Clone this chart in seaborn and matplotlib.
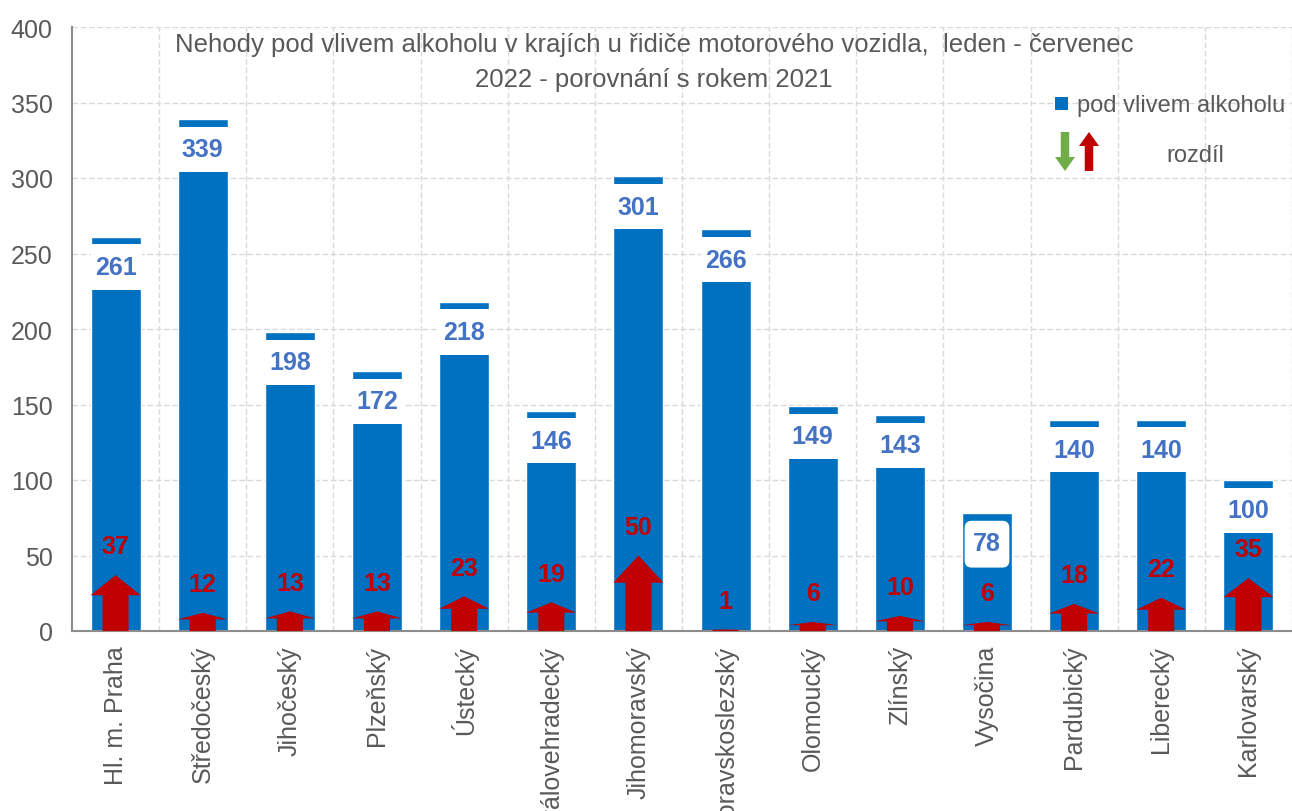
import numpy as np
import pandas as pd
import matplotlib
matplotlib.use("Agg")
import matplotlib.pyplot as plt
from matplotlib.patches import Rectangle, FancyBboxPatch, FancyArrow
import seaborn as sns

# Data
kraje = ['Hl. m. Praha', 'Středočeský', 'Jihočeský', 'Plzeňský', 'Ústecký',
         'Královehradecký', 'Jihomoravský', 'Moravskoslezský', 'Olomoucký',
         'Zlínský', 'Vysočina', 'Pardubický', 'Liberecký', 'Karlovarský']
nehody = [261, 339, 198, 172, 218, 146, 301, 266, 149, 143, 78, 140, 140, 100]
rozdil = [37, 12, 13, 13, 23, 19, 50, 1, 6, 10, 6, 18, 22, 35]

BLUE = '#0070C0'
LABEL_BLUE = '#4472C4'
RED = '#C00000'
GREEN = '#70AD47'
GRAY = '#595959'

sns.set_style('white')
plt.rcParams['font.family'] = ['Liberation Sans', 'DejaVu Sans']

df = pd.DataFrame({'kraj': kraje, 'nehody': nehody, 'rozdil': rozdil})

fig = plt.figure(figsize=(12.92, 8.12), dpi=100)
ax = fig.add_axes([72 / 1292, 180 / 812, 1 - 72 / 1292, 604 / 812])

sns.barplot(data=df, x='kraj', y='nehody', color=BLUE, saturation=1,
            width=0.574, ax=ax, zorder=2)

ax.set_ylim(0, 400)
ax.set_xlim(-0.5, len(kraje) - 0.5)
ax.set_yticks(np.arange(0, 401, 50))
ax.set_xlabel('')
ax.set_ylabel('')
ax.tick_params(axis='y', labelsize=18, colors=GRAY, length=0, pad=14)
ax.tick_params(axis='x', labelsize=18, colors=GRAY, length=0, pad=10)
plt.setp(ax.get_xticklabels(), rotation=90)

# dashed grid
for y in np.arange(50, 401, 50):
    ax.axhline(y, color='#D9D9D9', lw=1, ls=(0, (4, 2)), zorder=0)
for x in np.arange(0.5, len(kraje), 1):
    ax.axvline(x, color='#D9D9D9', lw=1, ls=(0, (4, 2)), zorder=0)

for side in ['top', 'right']:
    ax.spines[side].set_visible(False)
for side in ['left', 'bottom']:
    ax.spines[side].set_color('#8C8C8C')
    ax.spines[side].set_linewidth(1.5)

# value labels in white boxes, arrows for the difference
bars = ax.patches[:len(kraje)]
for i, (bar, val, d) in enumerate(zip(bars, nehody, rozdil)):
    cx = bar.get_x() + bar.get_width() / 2
    w = bar.get_width()
    if kraje[i] == 'Vysočina':
        box = FancyBboxPatch((bar.get_x() + 0.03, val - 36), w - 0.06, 31,
                             boxstyle='round,pad=0,rounding_size=0.08',
                             mutation_aspect=60, fc='white', ec='none', zorder=3)
    else:
        box = Rectangle((bar.get_x(), val - 35), w, 30, fc='white', ec='none', zorder=3)
    ax.add_patch(box)
    ax.text(cx, val - 20, str(val), ha='center', va='center', fontsize=18,
            fontweight='bold', color=LABEL_BLUE, zorder=4)

    arr = FancyArrow(cx, 0, 0, d, width=w * 0.52, head_width=w,
                     head_length=d * 0.36, length_includes_head=True,
                     fc=RED, ec='none', zorder=4)
    ax.add_patch(arr)
    ax.text(cx, d + 19, str(d), ha='center', va='center', fontsize=18,
            fontweight='bold', color=RED, zorder=5)

# title
fig.text(654 / 1292, 1 - 45 / 812,
         'Nehody pod vlivem alkoholu v krajích u řidiče motorového vozidla,  leden - červenec',
         ha='center', va='center', fontsize=18.5, color=GRAY)
fig.text(654 / 1292, 1 - 80 / 812, '2022 - porovnání s rokem 2021',
         ha='center', va='center', fontsize=18.5, color=GRAY)

# legend
tr = fig.dpi_scale_trans
fig.patches.append(Rectangle((10.55, 7.01), 0.13, 0.13, fc=BLUE, ec='none',
                             transform=tr, figure=fig))
fig.text(10.77, 7.06, 'pod vlivem alkoholu', transform=tr, ha='left',
         va='center', fontsize=17, color=GRAY)
fig.patches.append(FancyArrow(10.65, 6.79, 0, -0.39, width=0.085, head_width=0.2,
                              head_length=0.14, length_includes_head=True,
                              fc=GREEN, ec='none', transform=tr, figure=fig))
fig.patches.append(FancyArrow(10.89, 6.40, 0, 0.39, width=0.085, head_width=0.2,
                              head_length=0.14, length_includes_head=True,
                              fc=RED, ec='none', transform=tr, figure=fig))
fig.text(11.95, 6.56, 'rozdíl', transform=tr, ha='center', va='center',
         fontsize=17, color=GRAY)

fig.savefig('out.png', dpi=100)
